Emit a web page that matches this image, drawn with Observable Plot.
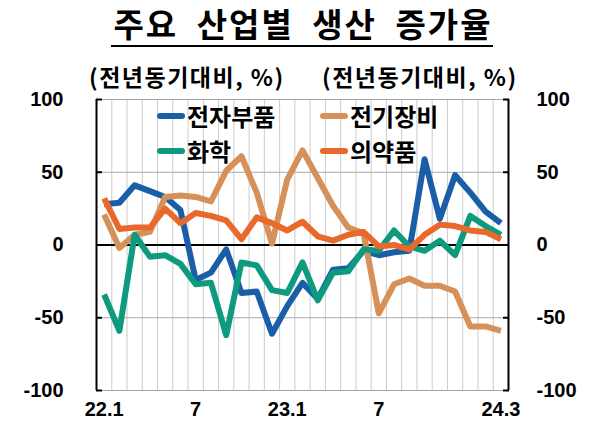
<!DOCTYPE html>
<html><head><meta charset="utf-8">
<script src="https://cdn.jsdelivr.net/npm/d3@7"></script>
<script src="https://cdn.jsdelivr.net/npm/@observablehq/plot@0.6"></script>
<style>
body{margin:0;background:#fff;}
#wrap{position:relative;width:595px;height:433px;overflow:hidden;font-family:"Noto Sans CJK KR",sans-serif;color:#000;}
#title{position:absolute;left:0;top:6px;width:604px;text-align:center;}
#title span{font-size:33px;font-weight:700;letter-spacing:2px;word-spacing:9px;border-bottom:2px solid #000;line-height:35px;display:inline-block;padding:0 0 4px 2px;}
.unit{position:absolute;top:63px;font-size:23px;font-weight:700;line-height:26px;letter-spacing:1.5px;white-space:nowrap;}
#chart{position:absolute;left:0;top:60px;}
.leg{position:absolute;font-size:24px;font-weight:700;display:flex;align-items:center;line-height:28px;white-space:nowrap;}
.sw{display:inline-block;width:28px;height:6px;margin-right:2px;border-radius:3px;}
</style>
</head><body>
<div id="wrap">
  <div id="title"><span>주요 산업별 생산 증가율</span></div>
  <div class="unit" style="left:89px">(전년동기대비, %)</div>
  <div class="unit" style="left:322px">(전년동기대비, %)</div>
  <div id="chart"></div>
  <div id="legend"></div>
</div>
<script>
// months (22.1 ~ 24.3)
const months = ["22.1","22.2","22.3","22.4","22.5","22.6","22.7","22.8","22.9","22.10","22.11","22.12",
  "23.1","23.2","23.3","23.4","23.5","23.6","23.7","23.8","23.9","23.10","23.11","23.12",
  "24.1","24.2","24.3"];
const xTickMonths = ["22.1","22.7","23.1","23.7","24.3"];
const xTickLabels = ["22.1","7","23.1","7","24.3"];
const yTicks = [100, 50, 0, -50, -100];

const seriesNames = ["전자부품","전기장비","화학","의약품"];
const seriesColors = ["#1a5ea8","#d6915a","#0e9a7e","#e8692a"];

const electronics = [28,29,41,37,33,24,-24,-19,-3,-33,-32,-61,-42,-26,-37,-17,-16,-4,-7,-5,-4,59,18,48,36,23,15];
const electrical  = [21,-2,7,9,33,34,33,30,51,61,36,1,45,65,46,27,12,8,-47,-27,-23,-28,-28,-32,-56,-56,-59];
const chemical    = [-34,-59,7,-8,-7,-13,-27,-26,-62,-12,-14,-31,-33,-12,-38,-19,-18,-3,-4,10,-1,-4,3,-7,20,13,7];
const pharma      = [32,11,12,12,25,15,22,20,17,4,19,15,10,16,6,3,7,9,-1,0,-3,7,14,13,10,9,4];
const seriesValues = [electronics, electrical, chemical, pharma];

const table = [];
seriesValues.forEach((vals, s) => vals.forEach((v, i) => table.push({series: seriesNames[s], i, month: months[i], value: v})));

const n = months.length;
const tickIdx = xTickMonths.map(m => months.indexOf(m));
const numFont = "'Liberation Sans', Arial, sans-serif";

const chart = Plot.plot({
  width: 595, height: 373,
  marginLeft: 96, marginRight: 87, marginTop: 39, marginBottom: 43,
  x: {type: "linear", domain: [-0.5, n - 0.5], label: null},
  y: {domain: [-100, 100], label: null},
  color: {domain: seriesNames, range: seriesColors},
  style: {fontFamily: numFont, fontSize: "20px", fontWeight: "bold", color: "#000", background: "transparent", overflow: "visible"},
  marks: [
    Plot.ruleX(d3.range(1, n), {x: d => d - 0.5, stroke: "#cccccc", strokeWidth: 1}),
    Plot.ruleY([100, 50, -50, -100], {stroke: "#a8a8a8", strokeWidth: 1}),
    Plot.ruleY([0], {stroke: "#000", strokeWidth: 2}),
    Plot.ruleX([-0.5, n - 0.5], {stroke: "#000", strokeWidth: 2}),
    Plot.axisY(yTicks, {anchor: "left", tickSize: -6, strokeWidth: 2, text: null, stroke: "#000"}),
    Plot.axisY(yTicks, {anchor: "right", tickSize: -6, strokeWidth: 2, text: null, stroke: "#000"}),
    Plot.axisY(yTicks, {anchor: "left", tickSize: 0, tickPadding: 33, tickFormat: d => String(d)}),
    Plot.axisY(yTicks, {anchor: "right", tickSize: 0, tickPadding: 28, tickFormat: d => String(d)}),
    Plot.axisX(tickIdx, {anchor: "bottom", tickSize: 0, tickPadding: 11, tickFormat: d => xTickLabels[tickIdx.indexOf(d)]}),
    ...seriesNames.map(name => Plot.line(table.filter(d => d.series === name), {
      x: "i", y: "value", stroke: "series", strokeWidth: 6, strokeLinejoin: "round", strokeLinecap: "butt"
    }))
  ]
});
document.getElementById("chart").appendChild(chart);

// legend (inside the plot area, two columns)
const legPos = [[157, 102], [320, 102], [157, 137], [320, 137]];
const legend = document.getElementById("legend");
seriesNames.forEach((name, s) => {
  const el = document.createElement("div");
  el.className = "leg";
  el.style.left = legPos[s][0] + "px";
  el.style.top = legPos[s][1] + "px";
  el.innerHTML = `<span class="sw" style="background:${seriesColors[s]}"></span>${name}`;
  legend.appendChild(el);
});
</script>
</body></html>
